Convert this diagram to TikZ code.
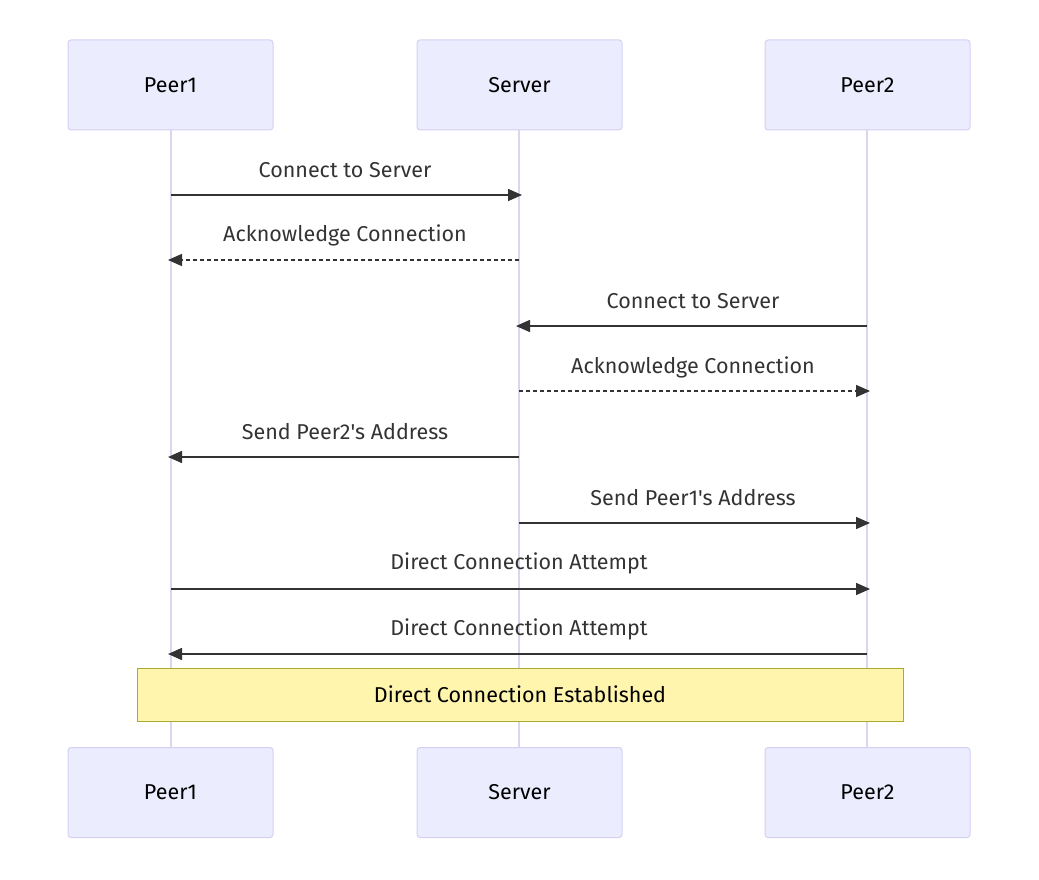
\documentclass[tikz,border=0pt]{standalone}
\usepackage{fontspec}
\setmainfont{Fira Sans}[Ligatures=TeXOff]
\usetikzlibrary{arrows.meta}
\definecolor{actfill}{HTML}{ECECFF}
\definecolor{actdraw}{HTML}{D4D0F2}
\definecolor{lifec}{HTML}{DCD4F0}
\definecolor{msgc}{HTML}{333333}
\definecolor{notefill}{HTML}{FFF5AD}
\definecolor{notedraw}{HTML}{AAAA33}
\tikzset{
  x=1pt, y=-1pt,
  actor/.style={draw=actdraw, fill=actfill, line width=1pt, rounded corners=3pt,
    minimum width=205pt, minimum height=90pt, inner sep=0pt,
    font=\fontsize{21.5}{25}\selectfont, text=black},
  life/.style={draw=lifec, line width=2pt},
  msg/.style={draw=msgc, line width=1.5pt, -{Triangle[length=14pt,width=12pt]}},
  reply/.style={msg, dash pattern=on 4pt off 3pt},
  lbl/.style={font=\fontsize{21.5}{25}\selectfont, text=msgc, inner sep=0pt},
  note/.style={draw=notedraw, fill=notefill, line width=1pt, inner sep=0pt,
    minimum width=766pt, minimum height=53pt, font=\fontsize{21.5}{25}\selectfont, text=black},
}
\begin{document}
\begin{tikzpicture}
\useasboundingbox (0,0) rectangle (1039,880);
% lifelines
\coordinate (p1t) at (171,130); \coordinate (p1b) at (171,748);
\coordinate (svt) at (519,130); \coordinate (svb) at (519,748);
\coordinate (p2t) at (867,130); \coordinate (p2b) at (867,748);
\draw[life] (p1t) -- (p1b);
\draw[life] (svt) -- (svb);
\draw[life] (p2t) -- (p2b);
% actors
\node[actor] (A1) at (170.5,85) {Peer1};
\node[actor] (S1) at (519.5,85) {Server};
\node[actor] (B1) at (867.5,85) {Peer2};
\node[actor] (A2) at (170.5,792.5) {Peer1};
\node[actor] (S2) at (519.5,792.5) {Server};
\node[actor] (B2) at (867.5,792.5) {Peer2};
% message anchors
\foreach \n/\y in {1/195,2/260,3/326,4/391,5/457,6/523,7/589,8/654}{
  \coordinate (a\n) at (171,\y);
  \coordinate (s\n) at (519,\y);
  \coordinate (b\n) at (867,\y);
}
\draw[msg] (a1) -- ([xshift=3pt]s1);
\node[lbl] (l1) at (345,170) {Connect to Server};
\draw[reply] (s2) -- ([xshift=-3pt]a2);
\node[lbl] (l2) at (345,235) {Acknowledge Connection};
\draw[msg] (b3) -- ([xshift=-3pt]s3);
\node[lbl] (l3) at (693,301) {Connect to Server};
\draw[reply] (s4) -- ([xshift=3pt]b4);
\node[lbl] (l4) at (693,367) {Acknowledge Connection};
\draw[msg] (s5) -- ([xshift=-3pt]a5);
\node[lbl] (l5) at (345,432) {Send Peer2's Address};
\draw[msg] (s6) -- ([xshift=3pt]b6);
\node[lbl] (l6) at (693,498) {Send Peer1's Address};
\draw[msg] (a7) -- ([xshift=3pt]b7);
\node[lbl] (l7) at (519,563) {Direct Connection Attempt};
\draw[msg] (b8) -- ([xshift=-3pt]a8);
\node[lbl] (l8) at (519,629) {Direct Connection Attempt};
% note
\node[note] (N) at (520,694.5) {Direct Connection Established};
\end{tikzpicture}
\end{document}
